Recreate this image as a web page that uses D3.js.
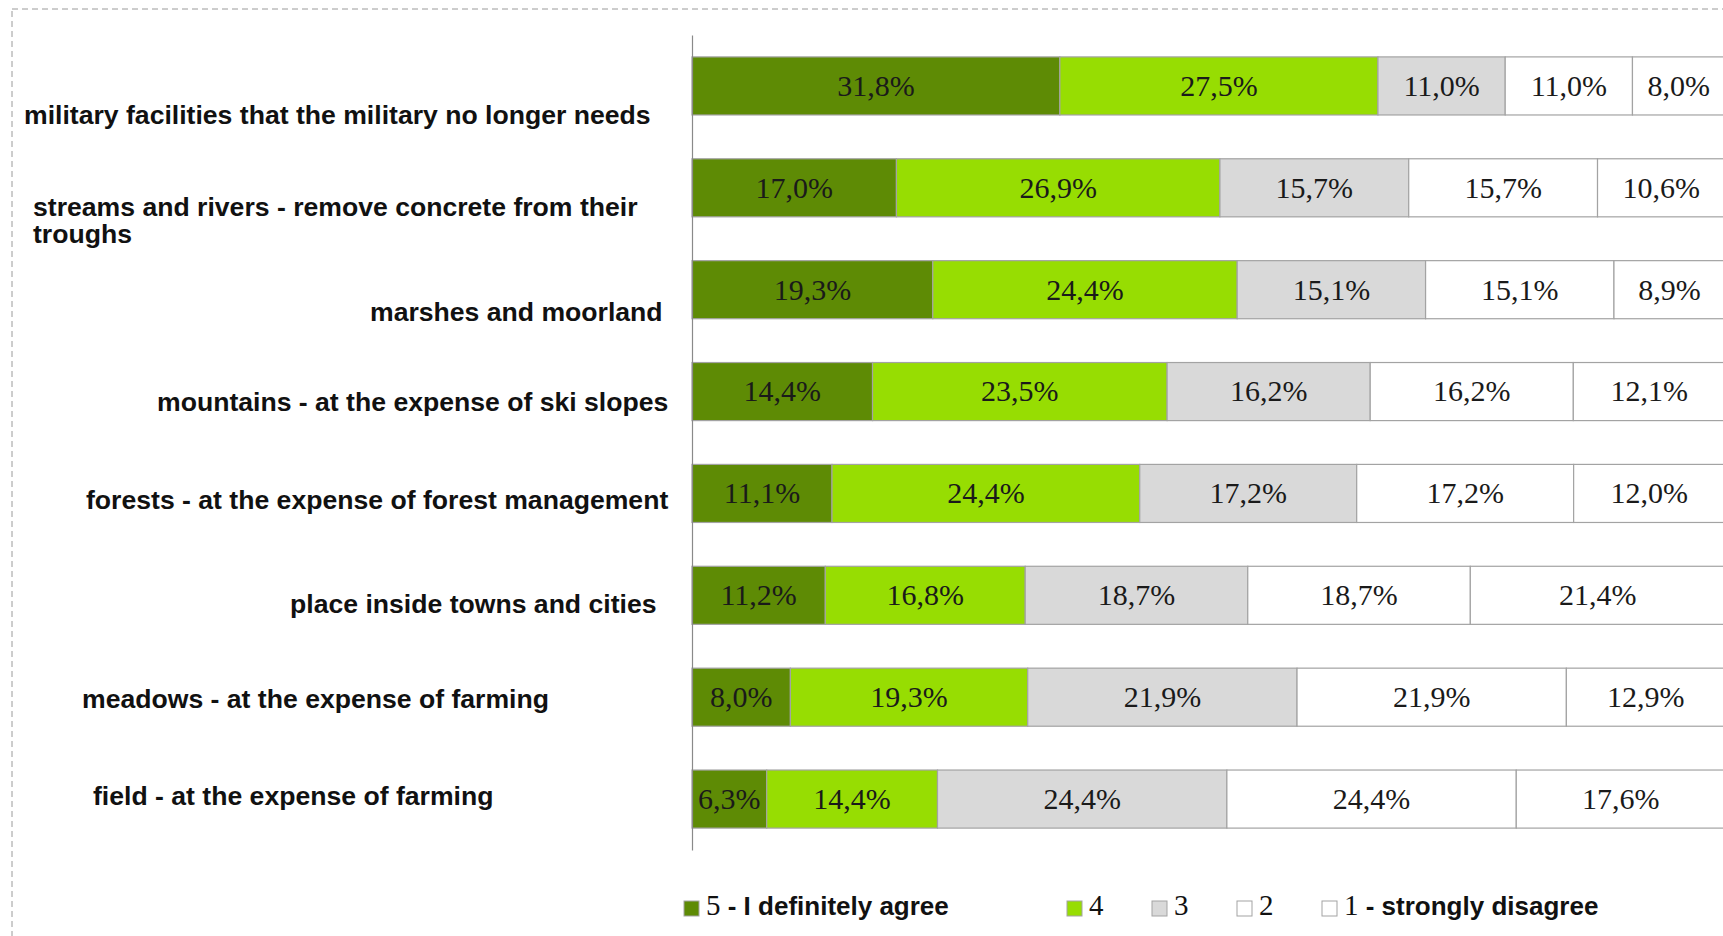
<!DOCTYPE html>
<html>
<head>
  <meta charset="utf-8">
  <title>Renaturation survey</title>
  <script src="https://d3js.org/d3.v7.min.js"></script>
  <style>
    body { margin: 0; background: #fff; }
    svg { display: block; }
  </style>
</head>
<body>
<div id="container"></div>
<script>
  // categories, top to bottom
  const categories = [
    "military facilities that the military no longer needs",
    "streams and rivers - remove concrete from their\ntroughs",
    "marshes and moorland",
    "mountains - at the expense of ski slopes",
    "forests - at the expense of forest management",
    "place inside towns and cities",
    "meadows - at the expense of farming",
    "field - at the expense of farming"
  ];
  const levels = ["5 - I definitely agree", "4", "3", "2", "1 - strongly disagree"];

  // percentages per answer
  const answer5 = [31.8, 17.0, 19.3, 14.4, 11.1, 11.2, 8.0, 6.3];
  const answer4 = [27.5, 26.9, 24.4, 23.5, 24.4, 16.8, 19.3, 14.4];
  const answer3 = [11.0, 15.7, 15.1, 16.2, 17.2, 18.7, 21.9, 24.4];
  const answer2 = [11.0, 15.7, 15.1, 16.2, 17.2, 18.7, 21.9, 24.4];
  const answer1 = [8.0, 10.6, 8.9, 12.1, 12.0, 21.4, 12.9, 17.6];

  const colors = ["#5e8b05", "#97dd02", "#d9d9d9", "#ffffff", "#ffffff"];

  // where the hand-placed category labels sit (start x, shift from bar centre)
  const labelX = [24, 33, 370, 157, 86, 290, 82, 93];
  const labelShift = [29, 19, 22, 10, 6, 8, 2, -3];
  const legendX = [684, 1067, 1152, 1237, 1322];

  const width = 1723, height = 936;

  const svg = d3.select("#container")
    .append("svg")
    .attr("width", width)
    .attr("height", height);

  // dashed frame
  svg.append("rect")
    .attr("x", 12).attr("y", 9)
    .attr("width", width + 20).attr("height", height + 20)
    .attr("fill", "none")
    .attr("stroke", "#9a9a9a")
    .attr("stroke-dasharray", "6,4");

  const rows = categories.map(function(c, i) {
    return {cat: c, a5: answer5[i], a4: answer4[i], a3: answer3[i], a2: answer2[i], a1: answer1[i]};
  });
  const keys = ["a5", "a4", "a3", "a2", "a1"];

  const stack = d3.stack().keys(keys).offset(d3.stackOffsetExpand);
  const series = stack(rows);

  const x = d3.scaleLinear().domain([0, 1]).range([692, 1725]);
  const y = d3.scaleBand()
    .domain(categories)
    .range([35, 850])
    .paddingInner(0.43)
    .paddingOuter(0.215);

  const fmt = function(v) { return d3.format(".1f")(v).replace(".", ",") + "%"; };

  const groups = svg.selectAll("g.series")
    .data(series)
    .enter()
    .append("g")
    .attr("class", "series")
    .attr("fill", function(d, i) { return colors[i]; });

  groups.selectAll("rect")
    .data(function(d) { return d; })
    .enter()
    .append("rect")
    .attr("x", function(d) { return x(d[0]); })
    .attr("y", function(d) { return y(d.data.cat); })
    .attr("width", function(d) { return x(d[1]) - x(d[0]); })
    .attr("height", y.bandwidth())
    .attr("stroke", "#a3a3a3")
    .attr("stroke-width", 1.2);

  groups.selectAll("text")
    .data(function(d) { return d.map(function(p) { p.key = d.key; return p; }); })
    .enter()
    .append("text")
    .attr("x", function(d) { return (x(d[0]) + x(d[1])) / 2; })
    .attr("y", function(d) { return y(d.data.cat) + y.bandwidth() / 2; })
    .attr("dy", "0.33em")
    .attr("text-anchor", "middle")
    .attr("fill", "#1a1a1a")
    .style("font-family", "'Liberation Serif', serif")
    .style("font-size", "30px")
    .text(function(d) { return fmt(d.data[d.key]); });

  // axis line
  svg.append("g")
    .attr("transform", "translate(692,0)")
    .call(d3.axisLeft(y.copy().range([35, 850])).tickSize(0).tickFormat(""))
    .call(function(g) { g.select(".domain").attr("stroke", "#8a8a8a").attr("stroke-width", 1.2); });

  // category labels
  categories.forEach(function(c, i) {
    const lines = c.split("\n");
    const t = svg.append("text")
      .attr("x", labelX[i])
      .attr("y", y(c) + y.bandwidth() / 2 + labelShift[i])
      .attr("fill", "#111")
      .style("font-family", "'Liberation Sans', Arial, sans-serif")
      .style("font-weight", "bold")
      .style("font-size", "26.6px");
    lines.forEach(function(l, j) {
      t.append("tspan")
        .attr("x", labelX[i])
        .attr("dy", j === 0 ? "0.35em" : "27px")
        .text(l);
    });
  });

  // legend
  const legend = svg.selectAll("g.legend")
    .data(levels)
    .enter()
    .append("g")
    .attr("class", "legend")
    .attr("transform", function(d, i) { return "translate(" + legendX[i] + ",909)"; });

  legend.append("rect")
    .attr("x", 0).attr("y", -8)
    .attr("width", 15).attr("height", 15)
    .attr("fill", function(d, i) { return colors[i]; })
    .attr("stroke", "#a3a3a3");

  const lt = legend.append("text")
    .attr("x", 22)
    .attr("y", 0)
    .attr("dy", "0.35em")
    .attr("fill", "#111");
  lt.append("tspan")
    .style("font-family", "'Liberation Serif', serif")
    .style("font-size", "29px")
    .text(function(d) { return d.charAt(0); });
  lt.append("tspan")
    .style("font-family", "'Liberation Sans', Arial, sans-serif")
    .style("font-weight", "bold")
    .style("font-size", "26px")
    .text(function(d) { return d.slice(1); });
</script>
</body>
</html>
